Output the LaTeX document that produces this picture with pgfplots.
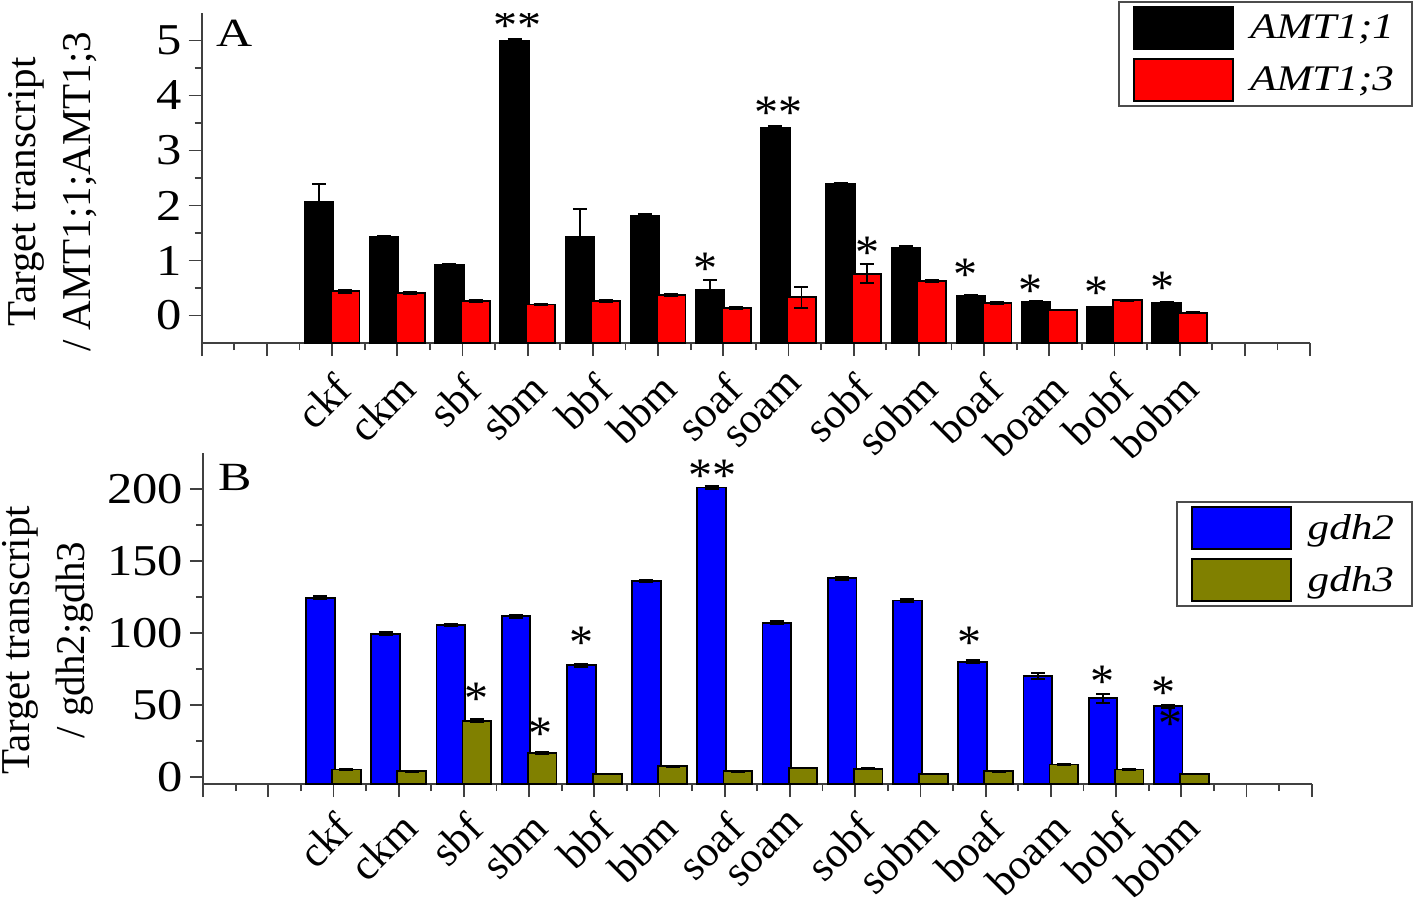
\documentclass[border=0pt]{standalone}
\usepackage{pgfplots}
\pgfplotsset{compat=1.18}
\usepackage{pgfplotstable}
\usepackage{graphicx}
\usepackage{fontspec}
\setmainfont{Liberation Serif}

\pgfplotstableread{
x a aerr b berr
2  2.07 0.32 0.44 0.03
3  1.43 0.02 0.41 0.02
4  0.92 0.01 0.26 0.02
5  5.00 0.03 0.20 0.01
6  1.43 0.51 0.26 0.02
7  1.81 0.03 0.38 0.02
8  0.47 0.17 0.14 0.02
9  3.42 0.02 0.33 0.19
10 2.39 0.03 0.76 0.17
11 1.23 0.04 0.63 0.02
12 0.36 0.02 0.23 0.02
13 0.25 0.01 0.10 0.01
14 0.15 0.01 0.28 0.01
15 0.23 0.01 0.05 0.01
}\tableA

\pgfplotstableread{
x a aerr b berr
2  124.5 1 5.1 0.5
3  99.5 1 3.9 0.3
4  105.5 1 39 1
5  111.5 1 16.5 1
6  77.5 1 2 0.3
7  136 1 7.4 0.5
8  201 1 3.9 0.3
9  107 1 6.2 0.3
10 138 1 5.6 0.3
11 122.5 1 2 0.3
12 80 1 3.9 0.3
13 70 2 8.6 0.5
14 54.5 3 5.1 0.3
15 49 1 2 0.3
}\tableB

\definecolor{olivebar}{RGB}{128,128,0}

\pgfplotsset{
  common/.style={
    scale only axis,
    xmin=0, xmax=17,
    axis x line=bottom, axis y line=left,
    axis line style={-, black!75, line width=0.9pt},
    tick align=outside, major tick length=6.5pt, minor tick length=3.5pt,
    every tick/.style={black!75, line width=0.9pt},
    xtick={0,...,17}, minor x tick num=1, minor y tick num=1,
    xticklabels={,,ckf,ckm,sbf,sbm,bbf,bbm,soaf,soam,sobf,sobm,boaf,boam,bobf,bobm,,},
    yticklabel style={font=\fontsize{22}{22}\selectfont},
    yticklabel={\scalebox{1.15}[1]{\pgfmathprintnumber{\tick}}},
    /pgf/number format/assume math mode=true,
    ybar, bar width=0.44,
    ylabel style={font=\fontsize{20.5}{27.5}\selectfont, align=center, anchor=center},
    legend cell align=left,
    legend style={anchor=north east, draw=black!70, line width=1pt,
      font=\fontsize{18}{18}\selectfont\itshape, row sep=4pt, inner xsep=7pt, inner ysep=2pt},
  },
  legimg/.style={legend image code/.code={\draw[##1, line width=1pt] (0pt,-10.5pt) rectangle (49.5pt,10.5pt); \path (55.5pt,0pt);}},
  barA/.style={draw=black, line width=0.9pt, fill=#1, bar shift=-0.2,
    error bars/.cd, y dir=both, y explicit,
    error bar style={black, line width=0.9pt},
    error mark options={rotate=90, mark size=3.5pt, black, line width=0.9pt}},
  barB/.style={draw=black, line width=0.9pt, fill=#1, bar shift=0.2,
    error bars/.cd, y dir=both, y explicit,
    error bar style={black, line width=0.9pt},
    error mark options={rotate=90, mark size=3.5pt, black, line width=0.9pt}},
}

\begin{document}
\begin{tikzpicture}
\useasboundingbox (-100.85pt,171.5pt) rectangle (607.15pt,-279pt);
\begin{axis}[common,
  at={(0pt,0pt)}, anchor=south west,
  width=554.15pt, height=165pt,
  ymin=-0.5, ymax=5.5,
  y coord trafo/.code={\pgfmathparse{#1+0.5}},
  y coord inv trafo/.code={\pgfmathparse{#1-0.5}},
  ytick={0,...,5},
  xticklabel style={font=\fontsize{21.5}{21.5}\selectfont, yshift=-2.5pt, rotate=45, anchor=north east},
  ylabel={Target transcript\\/ AMT1;1;AMT1;3},
  ylabel style={at={(axis description cs:-0.135,0.458)}},
  legend style={at={(1.093,1.035)}},
]
\addplot[legimg, barA=black] table[x=x, y=a, y error=aerr] {\tableA};
\addlegendentry{\scalebox{1.2}[1]{AMT1;1}}
\addplot[legimg, barB=red] table[x=x, y=b, y error=berr] {\tableA};
\addlegendentry{\scalebox{1.2}[1]{AMT1;3}}
\node[font=\fontsize{20}{20}\selectfont] at (rel axis cs:0.030,0.939) {\scalebox{1.25}[1]{A}};
\begin{scope}[every node/.style={font=\fontsize{24}{24}\selectfont, inner sep=0pt, yshift=-3.5pt}]
\node at (axis cs:4.84,5.40) {**};
\node at (axis cs:7.72,0.98) {*};
\node at (axis cs:8.84,3.82) {**};
\node at (axis cs:10.22,1.27) {*};
\node at (axis cs:11.71,0.87) {*};
\node at (axis cs:12.72,0.58) {*};
\node at (axis cs:13.72,0.54) {*};
\node at (axis cs:14.74,0.63) {*};
\end{scope}
\end{axis}

\begin{axis}[common,
  at={(0.65pt,-220.5pt)}, anchor=south west,
  width=554.35pt, height=165.5pt,
  ymin=-5, ymax=225,
  y coord trafo/.code={\pgfmathparse{#1+5}},
  y coord inv trafo/.code={\pgfmathparse{#1-5}},
  ytick={0,50,100,150,200},
  xticklabel style={font=\fontsize{21.5}{21.5}\selectfont, yshift=-1.5pt, rotate=45, anchor=north east},
  ylabel={Target transcript\\/ gdh2;gdh3},
  ylabel style={at={(axis description cs:-0.14,0.435)}},
  legend style={at={(1.0914,0.855)}},
]
\addplot[legimg, barA=blue] table[x=x, y=a, y error=aerr] {\tableB};
\addlegendentry{\scalebox{1.2}[1]{gdh2}}
\addplot[legimg, barB=olivebar] table[x=x, y=b, y error=berr] {\tableB};
\addlegendentry{\scalebox{1.2}[1]{gdh3}}
\node[font=\fontsize{20}{20}\selectfont] at (rel axis cs:0.029,0.927) {\scalebox{1.25}[1]{B}};
\begin{scope}[every node/.style={font=\fontsize{24}{24}\selectfont, inner sep=0pt, yshift=-3.5pt}]
\node at (axis cs:7.81,213.9) {**};
\node at (axis cs:5.81,98.3) {*};
\node at (axis cs:4.19,59.4) {*};
\node at (axis cs:5.18,35) {*};
\node at (axis cs:11.76,98.3) {*};
\node at (axis cs:13.79,70.6) {*};
\node at (axis cs:14.72,63.6) {*};
\node at (axis cs:14.83,42) {*};
\end{scope}
\end{axis}
\end{tikzpicture}
\end{document}
